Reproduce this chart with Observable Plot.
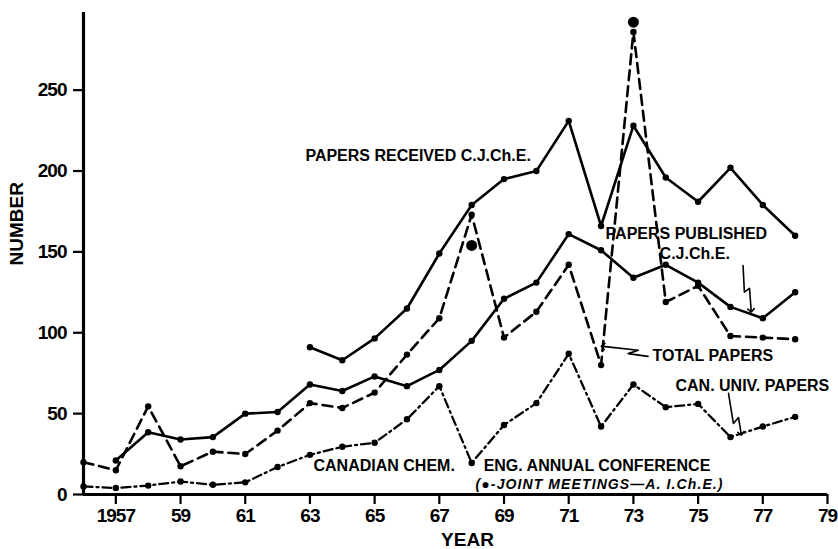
<!DOCTYPE html>
<html><head><meta charset="utf-8">
<script src="https://cdn.jsdelivr.net/npm/d3@7"></script>
<script src="https://cdn.jsdelivr.net/npm/@observablehq/plot@0.6"></script>
<style>
body{margin:0;background:#fff;}
#chart svg{display:block;font-family:"Liberation Sans",Arial,sans-serif;}
#chart [aria-label$="tick label"] text{letter-spacing:-1px;}
</style></head><body><div id="chart"></div>
<script>
// ---- data ----
const receivedYears = [1963,1964,1965,1966,1967,1968,1969,1970,1971,1972,1973,1974,1975,1976,1977,1978];
const received      = [91,83,96.5,115,149,179,195,200,231,166,228,196,181,202,179,160];

const publishedYears = [1957,1958,1959,1960,1961,1962,1963,1964,1965,1966,1967,1968,1969,1970,1971,1972,1973,1974,1975,1976,1977,1978];
const published      = [21,38.5,34,35.5,50,51,68,64,73,67,77,95,121,131,161,151,134,142,131,116,109,125];

const totalYears = [1956,1957,1958,1959,1960,1961,1962,1963,1964,1965,1966,1967,1968,1969,1970,1971,1972,1973,1974,1975,1976,1977,1978];
const total      = [20,15,54.5,17.5,26.5,25,39.5,56.5,53.5,63,86.5,109,173,97,113,142,80,286,119,129,98,97,96];

const conferenceYears = [1956,1957,1958,1959,1960,1961,1962,1963,1964,1965,1966,1967,1968,1969,1970,1971,1972,1973,1974,1975,1976,1977,1978];
const conference      = [5,4,5.5,8,6,7.5,17,24.5,29.5,32,46.5,67,19.5,43,56.5,87,42,68,54,56,35.5,42,48];

const jointYears = [1968,1973];
const joint      = [154,292];

const xTicks = [1957,1959,1961,1963,1965,1967,1969,1971,1973,1975,1977,1979];
const xTickLabels = ["1957","59","61","63","65","67","69","71","73","75","77","79"];
const yTicks = [0,50,100,150,200,250];

// annotation texts (anchored in data units)
const labelText = ["PAPERS RECEIVED C.J.Ch.E.","PAPERS PUBLISHED","C.J.Ch.E.","TOTAL PAPERS","CAN. UNIV. PAPERS","CANADIAN CHEM.","ENG. ANNUAL CONFERENCE"];
const labelYear = [1962.86,1972.14,1973.81,1973.59,1974.30,1963.11,1968.37];
const labelValue = [209.6,161.4,149.0,85.9,67.4,17.8,17.8];

const noteText = "(●-JOINT MEETINGS—A. I.Ch.E.)";
const noteYear = 1968.12, noteValue = 6.4;

// pointer arrows (zig-zag leaders), in data units
const arrowId   = ["t","t","t","t","p","p","p","p","u","u","u","u"];
const arrowYear = [1973.45,1972.84,1973.15,1972.06, 1976.39,1976.43,1976.59,1976.64, 1975.94,1976.09,1976.25,1976.33];
const arrowVal  = [85.4,87.1,89.2,91.6, 141.6,125.1,127.4,113.8, 62.5,43.9,47.6,37.7];

// ---- build tables ----
const zip = (xs, ys) => xs.map((x,i)=>({x, y: ys[i]}));
const recD = zip(receivedYears, received);
const pubD = zip(publishedYears, published);
const totD = zip(totalYears, total);
const conD = zip(conferenceYears, conference);
const jntD = zip(jointYears, joint);
const labD = labelText.map((t,i)=>({t, x: labelYear[i], y: labelValue[i]}));
const arrD = arrowId.map((id,i)=>({id, x: arrowYear[i], y: arrowVal[i]}));

const SW = 2.6;
const chart = Plot.plot({
  width: 838, height: 549,
  marginLeft: 83, marginRight: 11, marginTop: 12, marginBottom: 55,
  x: {domain: [1956, 1979]},
  y: {domain: [0, 298]},
  marks: [
    Plot.axisY(yTicks, {anchor: "left", tickSize: 10, tickPadding: 7, strokeWidth: 2.2, fontSize: 19, fontWeight: "bold", label: null}),
    Plot.axisX(xTicks, {anchor: "bottom", tickSize: 10, tickPadding: 4, strokeWidth: 2.2, fontSize: 19, fontWeight: "bold",
      tickFormat: d => xTickLabels[xTicks.indexOf(d)], label: null}),
    Plot.ruleY([0], {strokeWidth: 3.2}),
    Plot.ruleX([1956], {strokeWidth: 3.2}),
    Plot.line(recD, {x: "x", y: "y", strokeWidth: SW}),
    Plot.line(pubD, {x: "x", y: "y", strokeWidth: SW}),
    Plot.line(totD, {x: "x", y: "y", strokeWidth: SW, strokeDasharray: "10,6"}),
    Plot.line(conD, {x: "x", y: "y", strokeWidth: SW - 0.3, strokeDasharray: "9,4,2,4"}),
    Plot.dot(recD, {x: "x", y: "y", r: 3.2, fill: "black"}),
    Plot.dot(pubD, {x: "x", y: "y", r: 3.2, fill: "black"}),
    Plot.dot(totD, {x: "x", y: "y", r: 3.2, fill: "black"}),
    Plot.dot(conD, {x: "x", y: "y", r: 3.2, fill: "black"}),
    Plot.dot(jntD, {x: "x", y: "y", r: 5.5, fill: "black"}),
    Plot.line(arrD, {x: "x", y: "y", z: "id", strokeWidth: 1.6, markerEnd: "arrow"}),
    Plot.text(labD, {x: "x", y: "y", text: "t", textAnchor: "start", fontSize: 16, fontWeight: "bold", fill: "black"}),
    Plot.text([noteText], {x: () => noteYear, y: () => noteValue, textAnchor: "start", fontSize: 14, fontWeight: "bold", fontStyle: "italic", fill: "black"}),
    Plot.text(["NUMBER"], {frameAnchor: "left", dx: -67, dy: 12, rotate: -90, fontSize: 19, fontWeight: "bold", fill: "black"}),
    Plot.text(["YEAR"], {x: () => 1967.87, y: () => -27.8, fontSize: 19, fontWeight: "bold", fill: "black"})
  ]
});
d3.select(chart).selectAll("text").filter(function(){ return this.textContent === noteText; }).attr("letter-spacing", "1.1px");
document.getElementById("chart").appendChild(chart);
</script>
</body></html>
